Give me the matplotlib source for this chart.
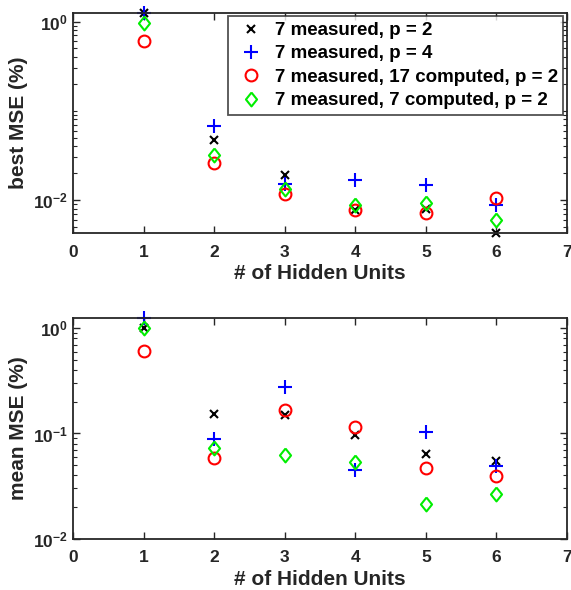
import matplotlib
matplotlib.use("Agg")
import matplotlib.pyplot as plt
import matplotlib.ticker as mticker
import numpy as np

plt.rcParams['font.family'] = ['Liberation Sans', 'DejaVu Sans']
plt.rcParams['font.weight'] = 'bold'
plt.rcParams['mathtext.fontset'] = 'custom'
plt.rcParams['mathtext.bf'] = 'Liberation Sans:bold'
plt.rcParams['mathtext.rm'] = 'Liberation Sans:bold'

hidden_units = [1, 2, 3, 4, 5, 6]

labels = ["7 measured, p = 2",
          "7 measured, p = 4",
          "7 measured, 17 computed, p = 2",
          "7 measured, 7 computed, p = 2"]

# best MSE (%)
best_p2 = [1.26, 0.047, 0.0193, 0.0078, 0.0080, 0.0043]
best_p4 = [1.26, 0.067, 0.0150, 0.0166, 0.0149, 0.0087]
best_17c = [0.60, 0.0263, 0.0116, 0.0077, 0.0072, 0.0105]
best_7c = [0.97, 0.032, 0.0133, 0.0087, 0.0093, 0.0060]

# mean MSE (%)
mean_p2 = [1.0, 0.153, 0.149, 0.097, 0.0645, 0.0548]
mean_p4 = [1.245, 0.0877, 0.276, 0.0447, 0.1036, 0.049]
mean_17c = [0.608, 0.058, 0.169, 0.116, 0.0474, 0.0398]
mean_7c = [1.0, 0.072, 0.063, 0.0537, 0.0212, 0.0264]

best_series = [best_p2, best_p4, best_17c, best_7c]
mean_series = [mean_p2, mean_p4, mean_17c, mean_7c]

diamond = [(0, 1), (0.8, 0), (0, -1), (-0.8, 0), (0, 1)]

styles = [dict(marker='x', color='black', ms=6, mew=1.5),
          dict(marker='+', color='#0000ff', ms=10, mew=1.5),
          dict(marker='o', color='#ff0000', mfc='none', ms=8.5, mew=1.5),
          dict(marker=diamond, color='#00ee00', mfc='none', ms=10, mew=1.5)]

txt = '#262626'

fig = plt.figure(figsize=(5.71, 5.90), dpi=100)
ax1 = fig.add_axes([0.128, 0.605, 0.865, 0.3735])
ax2 = fig.add_axes([0.128, 0.087, 0.865, 0.3735])


def fmt(v, pos):
    return r'$\mathbf{10^{%d}}$' % int(round(np.log10(v)))


def style_axis(ax, ylim, majors, ylabel):
    ax.set_yscale('log')
    ax.set_xlim(0, 7)
    ax.set_ylim(*ylim)
    ax.set_xticks(range(8))
    ax.yaxis.set_major_locator(mticker.FixedLocator(majors))
    ax.yaxis.set_major_formatter(mticker.FuncFormatter(fmt))
    mins = [m * 10.0 ** e for e in range(-3, 1) for m in range(1, 10)]
    mins = [m for m in mins if m not in majors]
    ax.yaxis.set_minor_locator(mticker.FixedLocator(mins))
    ax.yaxis.set_minor_formatter(mticker.NullFormatter())
    ax.tick_params(which='both', direction='in', top=True, right=True,
                   color=txt, labelcolor=txt, labelsize=12.5)
    ax.tick_params(axis='x', which='major', pad=8.5)
    ax.tick_params(which='major', length=5, width=1.0)
    ax.tick_params(which='minor', length=3, width=0.8)
    for s in ax.spines.values():
        s.set_color(txt)
        s.set_linewidth(1.3)
    ax.set_xlabel('# of Hidden Units', fontsize=15, fontweight='bold', color=txt,
                  labelpad=3)
    ax.set_ylabel(ylabel, fontsize=15, fontweight='bold', color=txt)


for vals, st, lab in zip(best_series, styles, labels):
    ax1.plot(hidden_units, vals, ls='none', label=lab, clip_on=False, **st)
for vals, st, lab in zip(mean_series, styles, labels):
    ax2.plot(hidden_units, vals, ls='none', label=lab, clip_on=False, **st)

style_axis(ax1, (10 ** -2.37, 10 ** 0.1), [1e-2, 1e0], 'best MSE (%)')
style_axis(ax2, (1e-2, 10 ** 0.095), [1e-2, 1e-1, 1e0], 'mean MSE (%)')

leg = ax1.legend(loc='upper right', fontsize=13.5, frameon=True, fancybox=False,
                 edgecolor=txt, borderaxespad=0.2, handletextpad=0.3,
                 labelspacing=0.33, handlelength=1.9, borderpad=0.3)
leg.get_frame().set_linewidth(1.3)
for t in leg.get_texts():
    t.set_color('black')

fig.savefig('out.png', dpi=100)
